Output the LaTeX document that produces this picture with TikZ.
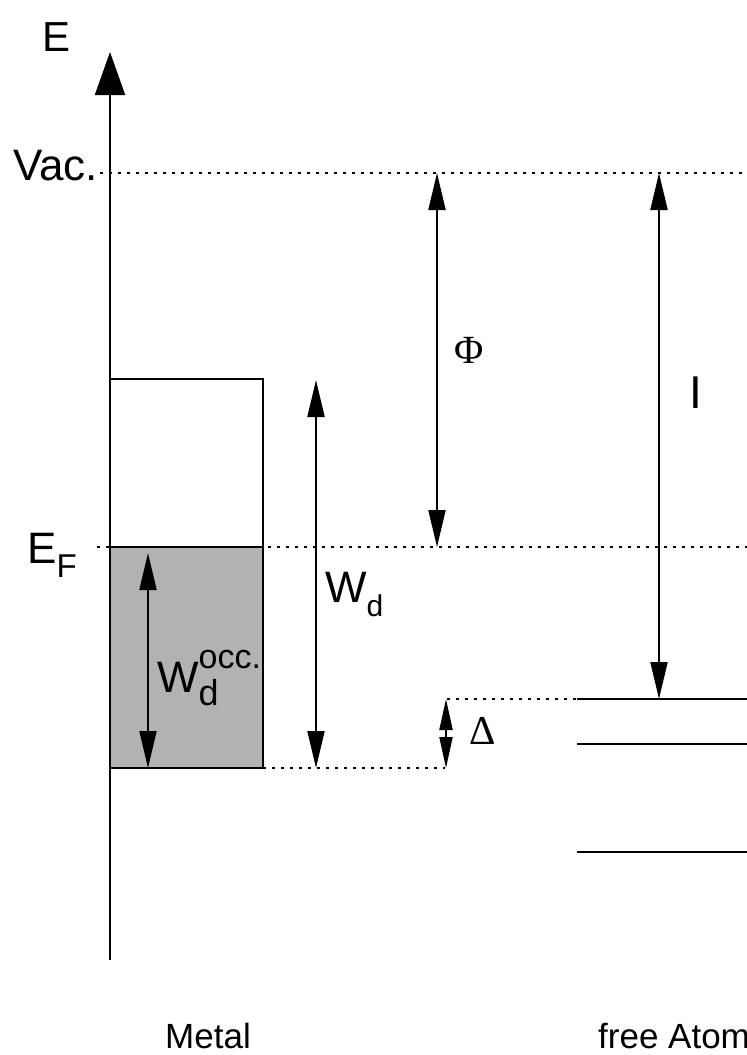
\documentclass[tikz,border=0pt]{standalone}
\usepackage{fontspec}
\setmainfont{Liberation Sans}
\newfontfamily\greekfont{Liberation Serif}
\usetikzlibrary{arrows.meta}

\tikzset{
  level/.style={line width=2pt},
  dotline/.style={line width=2.5pt, dash pattern=on 2.5pt off 6.5pt},
  dimarrow/.style={line width=2pt, {Triangle[length=37pt,width=17pt]}-{Triangle[length=37pt,width=17pt]}},
  smallarrow/.style={line width=2pt, {Triangle[length=31pt,width=13pt]}-{Triangle[length=31pt,width=13pt]}},
  lbl/.style={inner sep=0pt, font=\fontsize{44}{48}\selectfont},
  greeklbl/.style={inner sep=0pt, font=\greekfont\fontsize{41}{44}\selectfont},
  caption/.style={inner sep=0pt, font=\fontsize{35}{40}\selectfont},
}

\begin{document}
\begin{tikzpicture}[x=1pt,y=-1pt]
    \useasboundingbox (0,0) rectangle (747,1055);

    % Energy axis
    \coordinate (axisbot) at (110,960);
    \coordinate (axistop) at (110,52);
    \draw[line width=2pt, -{Triangle[length=43pt,width=30pt]}] (axisbot) -- (axistop);
    \node[lbl, font=\fontsize{42}{46}\selectfont] (elabel) at (57,37) {E};

    % Reference levels
    \draw[dotline] (100,173) -- (747,173);
    \node[lbl, anchor=base west] (vac) at (13,180) {Vac.};
    \draw[dotline] (97,547) -- (747,547);
    \node[lbl, anchor=base west] (ef) at (27,563) {E\raisebox{-14pt}{\fontsize{33}{36}\selectfont F}};

    % d band of the metal
    \draw[level] (110,379) rectangle (263,547);
    \draw[level, fill=black!30] (110,547) rectangle (263,768);
    \draw[dotline] (263,768) -- (445,768);

    % Levels of the free atom
    \draw[dotline] (447,699) -- (577,699);
    \draw[level] (577,699) -- (747,699);
    \draw[level] (577,744) -- (747,744);
    \draw[level] (577,852) -- (747,852);

    % Occupied band width
    \coordinate (occtop) at (148,553);
    \coordinate (occbot) at (148,768);
    \draw[dimarrow] (occtop) -- (occbot);
    \node[lbl, anchor=base west] (wocc) at (157,692) {W\makebox[0pt][l]{\raisebox{24pt}{\fontsize{34}{36}\selectfont occ.}}\raisebox{-13pt}{\fontsize{36}{38}\selectfont d}};

    % Band width
    \coordinate (wdtop) at (316,380);
    \coordinate (wdbot) at (316,768);
    \draw[dimarrow] (wdtop) -- (wdbot);
    \node[lbl, anchor=base west] (wd) at (325,602) {W\raisebox{-14pt}{\fontsize{30}{32}\selectfont d}};

    % Work function
    \coordinate (phitop) at (437,173);
    \coordinate (phibot) at (437,547);
    \draw[dimarrow] (phitop) -- (phibot);
    \node[greeklbl, font=\greekfont\fontsize{40}{44}\selectfont] (phi) at (469,350) {Φ};

    % Ionisation energy
    \coordinate (iontop) at (659,173);
    \coordinate (ionbot) at (659,699);
    \draw[dimarrow] (iontop) -- (ionbot);
    \node[lbl, font=\fontsize{46}{50}\selectfont] (ion) at (696,393) {I};

    % Shift between band bottom and atomic level
    \coordinate (deltop) at (446,699);
    \coordinate (delbot) at (446,768);
    \draw[smallarrow] (deltop) -- (delbot);
    \node[greeklbl] (delta) at (483,731) {Δ};

    % Captions
    \node[caption, anchor=base] (metal) at (208,1048) {Metal};
    \node[caption, anchor=base west] (atom) at (598,1048) {free Atom};
\end{tikzpicture}
\end{document}
